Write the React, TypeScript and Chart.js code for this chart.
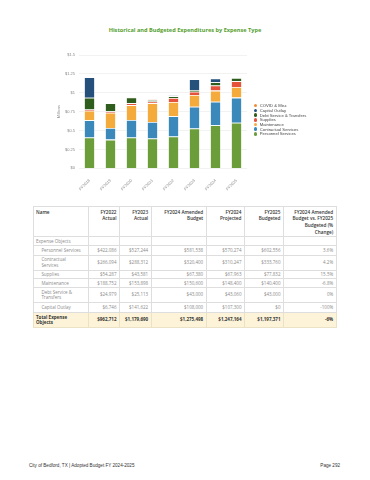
import React, { useEffect, useRef } from "react";
import { Chart, registerables } from "chart.js";

Chart.register(...registerables);

// ---------- chart data ----------
const years = ["FY2018", "FY2019", "FY2020", "FY2021", "FY2022", "FY2023", "FY2024", "FY2025"];
const personnelServices = [408000, 380000, 408000, 395000, 422086, 527244, 570274, 602556];
const contractualServices = [228000, 155000, 232000, 218000, 266094, 288312, 310247, 333760];
const maintenance = [127000, 200000, 197000, 250000, 188752, 153898, 148400, 140400];
const supplies = [17000, 21000, 26000, 22000, 54287, 43581, 67963, 77832];
const debtService = [154000, 106000, 76000, 18000, 24979, 25113, 43060, 43000];
const capitalOutlay = [271000, 0, 0, 0, 6746, 141622, 50000, 0];
const covidMisc = [0, 0, 8000, 8000, 0, 0, 0, 0];

// ---------- table data ----------
const tableHeaders = [
  "Name",
  "FY2022\nActual",
  "FY2023\nActual",
  "FY2024 Amended\nBudget",
  "FY2024\nProjected",
  "FY2025\nBudgeted",
  "FY2024 Amended\nBudget vs. FY2025\nBudgeted (%\nChange)",
];
const rowNames = [
  "Personnel Services",
  "Contractual\nServices",
  "Supplies",
  "Maintenance",
  "Debt Service &\nTransfers",
  "Capital Outlay",
];
const fy2022Actual = [422086, 266094, 54287, 188752, 24979, 6746];
const fy2023Actual = [527244, 288312, 43581, 153898, 25113, 141622];
const fy2024Amended = [581538, 320400, 67380, 150600, 43000, 108000];
const fy2024Projected = [570274, 310247, 67963, 148400, 43060, 107300];
const fy2025Budgeted = [602556, 333760, 77832, 140400, 43000, 0];
const pctChange = ["3.6%", "4.2%", "15.5%", "-6.8%", "0%", "-100%"];
const totals = [962712, 1179690, 1275498, 1247164, 1197371];
const totalPct = "-6%";

const legendItems = [
  { label: "COVID & Misc", color: "#ef8c35" },
  { label: "Capital Outlay", color: "#25507c" },
  { label: "Debt Service & Transfers", color: "#2f5d1d" },
  { label: "Supplies", color: "#e5533b" },
  { label: "Maintenance", color: "#f5aa3c" },
  { label: "Contractual Services", color: "#3b88ba" },
  { label: "Personnel Services", color: "#6b9e3b" },
];

const colWidths = [55, 31, 31.7, 55, 38.3, 39, 52.7];
const rowHeights = [9.3, 15, 8.4, 9.3, 14.7, 10];

const money = (v: number) => "$" + v.toLocaleString("en-US");

function BarChart() {
  const ref = useRef<HTMLCanvasElement | null>(null);
  useEffect(() => {
    if (!ref.current) return;
    const mk = (label: string, data: number[], color: string) => ({
      label,
      data,
      backgroundColor: color,
      borderColor: "rgba(255,255,255,0.45)",
      borderWidth: 0.8,
      categoryPercentage: 1,
      barPercentage: 0.52,
    });
    const chart = new Chart(ref.current, {
      type: "bar",
      data: {
        labels: years,
        datasets: [
          mk("Personnel Services", personnelServices, "#6b9e3b"),
          mk("Contractual Services", contractualServices, "#3b88ba"),
          mk("Maintenance", maintenance, "#f5aa3c"),
          mk("Supplies", supplies, "#e5533b"),
          mk("Debt Service & Transfers", debtService, "#2f5d1d"),
          mk("Capital Outlay", capitalOutlay, "#25507c"),
          mk("COVID & Misc", covidMisc, "#ef8c35"),
        ],
      },
      options: {
        animation: false,
        responsive: false,
        maintainAspectRatio: false,
        layout: { padding: { top: 15, right: 13, bottom: 0, left: 0 } },
        plugins: { legend: { display: false }, tooltip: { enabled: false }, title: { display: false } },
        scales: {
          x: {
            stacked: true,
            grid: { display: false },
            border: { display: false },
            ticks: {
              maxRotation: 45,
              minRotation: 45,
              autoSkip: false,
              color: "#888",
              font: { size: 4, family: "Liberation Sans" },
              padding: 2,
            },
            afterFit: (s: any) => {
              s.height = 31.7;
            },
          },
          y: {
            stacked: true,
            min: 0,
            max: 1500000,
            grid: { color: "#ececec", lineWidth: 0.7, drawTicks: false },
            border: { display: false },
            ticks: {
              stepSize: 250000,
              padding: 4,
              color: "#888",
              font: { size: 4, family: "Liberation Sans" },
              callback: (v: any) => "$" + Number(v) / 1000000,
            },
            title: {
              display: true,
              text: "Millions",
              color: "#888",
              font: { size: 4, family: "Liberation Sans" },
              padding: { top: 36, bottom: 0 },
            },
            afterFit: (s: any) => {
              s.width = 59;
            },
          },
        },
      },
    });
    return () => chart.destroy();
  }, []);
  return (
    <canvas
      ref={ref}
      width={240}
      height={160}
      style={{ position: "absolute", left: 20, top: 40, width: 240, height: 160 }}
    />
  );
}

export default function App() {
  const cellBorder = "1px solid #dedede";
  const headCell = (i: number): React.CSSProperties => ({
    width: colWidths[i],
    border: cellBorder,
    fontSize: 4.7,
    fontWeight: 600,
    color: "#333",
    lineHeight: "6.7px",
    verticalAlign: "top",
    paddingTop: 2,
    paddingLeft: i === 0 ? 2 : 0,
    paddingRight: i === 0 ? 0 : 2.5,
    textAlign: i === 0 ? "left" : "right",
    whiteSpace: "pre",
    height: 27.3,
    boxSizing: "border-box",
  });
  const bodyCell = (i: number, h: number): React.CSSProperties => ({
    border: cellBorder,
    fontSize: 4.5,
    fontWeight: 400,
    color: "#8a8a8a",
    lineHeight: "5.3px",
    verticalAlign: "middle",
    paddingLeft: i === 0 ? 7.4 : 0,
    paddingRight: i === 0 ? 0 : 2.5,
    paddingTop: 0,
    paddingBottom: 0,
    textAlign: i === 0 ? "left" : "right",
    whiteSpace: "pre",
    height: h,
    boxSizing: "border-box",
  });
  const totalCell = (i: number): React.CSSProperties => ({
    ...bodyCell(i, 15.3),
    paddingLeft: i === 0 ? 2 : 0,
    fontWeight: 700,
    color: "#333",
    background: "#fdf3d9",
    borderColor: "#ebe2c6",
  });
  const colVals = [fy2022Actual, fy2023Actual, fy2024Amended, fy2024Projected, fy2025Budgeted];

  return (
    <div
      style={{
        position: "absolute",
        left: 0,
        top: 0,
        width: 370,
        height: 480,
        background: "#fff",
        overflow: "hidden",
        fontFamily: "'Open Sans', sans-serif",
      }}
    >
      <div
        style={{
          position: "absolute",
          left: 0,
          width: 370,
          top: 26.5,
          textAlign: "center",
          fontSize: 5.6,
          fontWeight: 700,
          color: "#55a02e",
          lineHeight: "7px",
        }}
      >
        Historical and Budgeted Expenditures by Expense Type
      </div>
      <BarChart />
      {legendItems.map((it, i) => (
        <div
          key={it.label}
          style={{
            position: "absolute",
            left: 253.8,
            top: 105.7 + i * 4.67 - 2.5,
            height: 5,
            display: "flex",
            alignItems: "center",
            fontFamily: "'Liberation Sans', Arial, sans-serif",
            fontSize: 4.2,
            color: "#444",
            whiteSpace: "nowrap",
          }}
        >
          <span
            style={{
              display: "inline-block",
              width: 3.6,
              height: 3.6,
              borderRadius: "50%",
              background: it.color,
              marginRight: 2.4,
            }}
          />
          {it.label}
        </div>
      ))}
      <table
        style={{
          position: "absolute",
          left: 33,
          top: 205.5,
          width: 303,
          borderCollapse: "collapse",
          tableLayout: "fixed",
        }}
      >
        <colgroup>
          {colWidths.map((w, i) => (
            <col key={i} style={{ width: w }} />
          ))}
        </colgroup>
        <tbody>
          <tr>
            {tableHeaders.map((h, i) => (
              <td key={i} style={headCell(i)}>
                {h}
              </td>
            ))}
          </tr>
          <tr>
            <td style={{ ...bodyCell(0, 9), paddingLeft: 2 }}>Expense Objects</td>
            {colWidths.slice(1).map((_, i) => (
              <td key={i} style={bodyCell(i + 1, 9)} />
            ))}
          </tr>
          {rowNames.map((name, r) => (
            <tr key={name}>
              <td style={bodyCell(0, rowHeights[r])}>{name}</td>
              {colVals.map((vals, c) => (
                <td key={c} style={bodyCell(c + 1, rowHeights[r])}>
                  {money(vals[r])}
                </td>
              ))}
              <td style={bodyCell(6, rowHeights[r])}>{pctChange[r]}</td>
            </tr>
          ))}
          <tr>
            <td style={totalCell(0)}>{"Total Expense\nObjects"}</td>
            {totals.map((t, c) => (
              <td key={c} style={totalCell(c + 1)}>
                {money(t)}
              </td>
            ))}
            <td style={totalCell(6)}>{totalPct}</td>
          </tr>
        </tbody>
      </table>
      <div
        style={{
          position: "absolute",
          left: 29,
          top: 463,
          fontFamily: "'Liberation Sans', Arial, sans-serif",
          fontSize: 4.6,
          color: "#333",
          whiteSpace: "nowrap",
        }}
      >
        City of Bedford, TX | Adopted Budget FY 2024-2025
      </div>
      <div
        style={{
          position: "absolute",
          right: 30,
          top: 463,
          fontFamily: "'Liberation Sans', Arial, sans-serif",
          fontSize: 4.6,
          color: "#333",
          whiteSpace: "nowrap",
        }}
      >
        Page 292
      </div>
    </div>
  );
}
